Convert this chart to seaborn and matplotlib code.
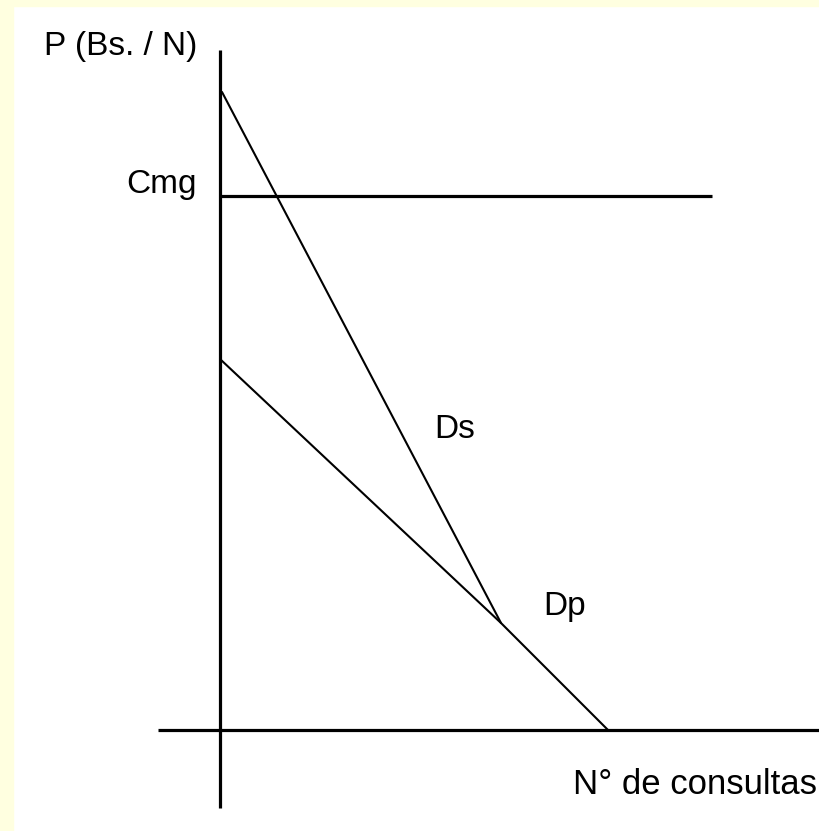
import matplotlib
matplotlib.use('Agg')
import matplotlib.pyplot as plt
import matplotlib.patches as mpatches
import seaborn as sns
import pandas as pd

# ── Data (quantity / price units, origin at the axes cross) ───────────────────
cmg_level = 53.4          # marginal cost
cmg_q_end = 49.2
ds_q = [0.2, 28.1]        # social demand
ds_p = [63.8, 10.7]
dp_q = [0.0, 28.1, 38.8]  # private demand
dp_p = [37.1, 10.7, 0.0]

# ── Setup ──────────────────────────────────────────────────────────────────────
sns.set_theme(style='white')
plt.rcParams['font.family'] = ['Liberation Sans', 'DejaVu Sans']
plt.rcParams['text.color'] = 'black'

fig = plt.figure(figsize=(8.2, 8.31), dpi=100)
fig.patch.set_facecolor('white')
# pale yellow slide border (left and top)
fig.patches.append(mpatches.Rectangle((0, 0), 13 / 820, 1, transform=fig.transFigure,
                                      color='#ffffe0', zorder=0))
fig.patches.append(mpatches.Rectangle((0, 1 - 6 / 831), 1, 6 / 831, transform=fig.transFigure,
                                      color='#ffffe0', zorder=0))

ax = fig.add_axes([13 / 820, 0, 1 - 13 / 820, 1 - 6 / 831])
ax.set_xlim(-20.7, 60)
ax.set_ylim(-10.1, 72.4)
ax.set_facecolor('white')
ax.axis('off')

# axes of the diagram
ax.plot([0, 0], [-7.8, 68], color='black', lw=2.3, solid_capstyle='butt')
ax.plot([-6.2, 60], [0, 0], color='black', lw=2.3, solid_capstyle='butt')

# Cmg line
ax.plot([0, cmg_q_end], [cmg_level, cmg_level], color='black', lw=2.3, solid_capstyle='butt')

# demand curves
ds = pd.DataFrame({'q': ds_q, 'p': ds_p})
dp = pd.DataFrame({'q': dp_q, 'p': dp_p})
sns.lineplot(data=ds, x='q', y='p', color='black', lw=1.5, sort=False, ax=ax)
sns.lineplot(data=dp, x='q', y='p', color='black', lw=1.5, sort=False, ax=ax)

# labels
fs = 24
ax.text(-9.9, 68.3, 'P (Bs. / N)', fontsize=fs, ha='center', va='center', color='black')
ax.text(-2.3, 54.5, 'Cmg', fontsize=fs, ha='right', va='center', color='black')
ax.text(23.5, 30.1, 'Ds', fontsize=fs, ha='center', va='center', color='black')
ax.text(34.5, 12.3, 'Dp', fontsize=fs, ha='center', va='center', color='black')
ax.text(35.3, -5.5, 'N° de consultas', fontsize=25, ha='left', va='center', color='black')

plt.savefig('out.png', dpi=100)
plt.close()
